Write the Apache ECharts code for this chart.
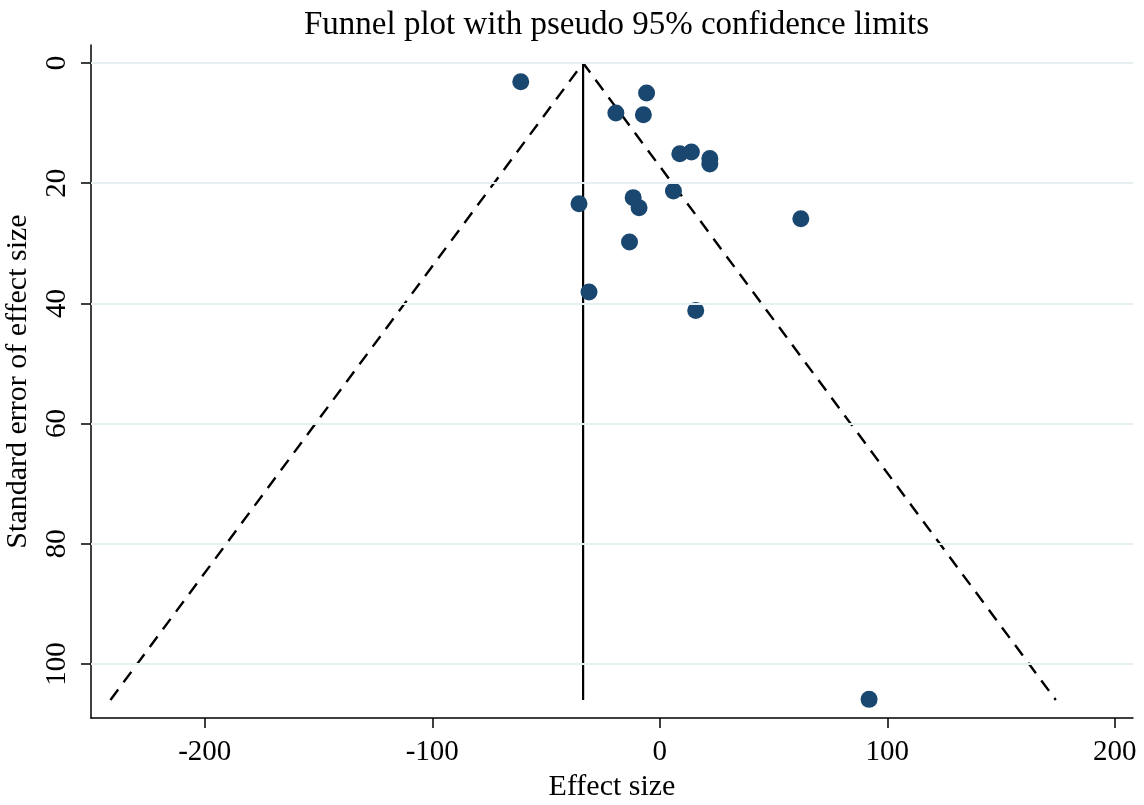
<!DOCTYPE html>
<html>
<head>
<meta charset="utf-8">
<title>Funnel plot</title>
<script src="https://cdn.jsdelivr.net/npm/echarts@6/dist/echarts.min.js"></script>
<style>
  html, body { margin: 0; padding: 0; background: #fff; }
  #chart { width: 1144px; height: 805px; }
</style>
</head>
<body>
<div id="chart"></div>
<script>
// study estimates: effect size and its standard error
const effectSize = [-61.1, -5.8, -19.3, -7.2, 8.8, 13.9, 22.0, 22.0, 6.0, -11.7, -35.5, -9.1, 62.0, -13.3, -31.1, 15.8, 92.0];
const stdError   = [3.1, 5.0, 8.3, 8.6, 15.1, 14.8, 15.9, 16.8, 21.3, 22.4, 23.4, 24.1, 25.9, 29.8, 38.1, 41.2, 105.9];

// pooled estimate and funnel extent
const pooledEffect = -33.7;
const maxSE = 106;
const z95 = 1.96;

const xTicks = [-200, -100, 0, 100, 200];
const yTicks = [0, 20, 40, 60, 80, 100];

const points = effectSize.map((x, i) => [x, stdError[i]]);
const funnel = [
  [pooledEffect - z95 * maxSE, maxSE],
  [pooledEffect, 0],
  [pooledEffect + z95 * maxSE, maxSE],
];
const centreLine = [[pooledEffect, 0], [pooledEffect, maxSE]];

const font = '"Liberation Serif", "DejaVu Serif", serif';
const chart = echarts.init(document.getElementById('chart'));

chart.setOption({
  backgroundColor: '#fff',
  animation: false,
  title: {
    text: 'Funnel plot with pseudo 95% confidence limits',
    left: 299,
    top: 4,
    textStyle: { fontFamily: font, fontWeight: 'normal', fontSize: 33, color: '#000' },
  },
  grid: { left: 91, right: 11, top: 45, bottom: 87, outerBoundsMode: 'none', containLabel: false },
  xAxis: {
    type: 'value',
    min: -250,
    max: 208,
    name: 'Effect size',
    nameLocation: 'middle',
    nameGap: 52,
    nameTextStyle: { fontFamily: font, fontSize: 30, color: '#000' },
    axisLine: { show: true, onZero: false, lineStyle: { color: '#000', width: 1.5 } },
    axisTick: { show: true, length: 10, customValues: xTicks, lineStyle: { color: '#000', width: 1.5 } },
    axisLabel: { customValues: xTicks, fontFamily: font, fontSize: 29, color: '#000', margin: 20 },
    splitLine: { show: false },
  },
  yAxis: {
    type: 'value',
    inverse: true,
    min: -3,
    max: 109,
    name: 'Standard error of effect size',
    nameLocation: 'middle',
    nameRotate: 90,
    nameGap: 58,
    nameMoveOverlap: false,
    nameTextStyle: { fontFamily: font, fontSize: 30, color: '#000' },
    axisLine: { show: true, onZero: false, lineStyle: { color: '#000', width: 1.5 } },
    axisTick: { show: true, length: 10, customValues: yTicks, lineStyle: { color: '#000', width: 1.5 } },
    axisLabel: { customValues: yTicks, rotate: 90, fontFamily: font, fontSize: 29, color: '#000', margin: 19 },
    splitLine: { show: false },
  },
  series: [
    {
      // horizontal grid lines at tick values
      type: 'line',
      data: [],
      silent: true,
      markLine: {
        symbol: 'none',
        silent: true,
        label: { show: false },
        lineStyle: { color: '#e6eff1', width: 2, type: 'solid' },
        data: yTicks.map(v => ({ yAxis: v })),
      },
    },
    {
      type: 'line',
      data: funnel,
      symbol: 'none',
      lineStyle: { color: '#000', width: 2.4, type: [13, 9] },
      z: 3,
    },
    {
      type: 'line',
      data: centreLine,
      symbol: 'none',
      lineStyle: { color: '#000', width: 2.2 },
      z: 3,
    },
    {
      type: 'scatter',
      data: points,
      symbolSize: 17,
      itemStyle: { color: '#1a476f', opacity: 1 },
      z: 4,
    },
  ],
});
</script>
</body>
</html>
